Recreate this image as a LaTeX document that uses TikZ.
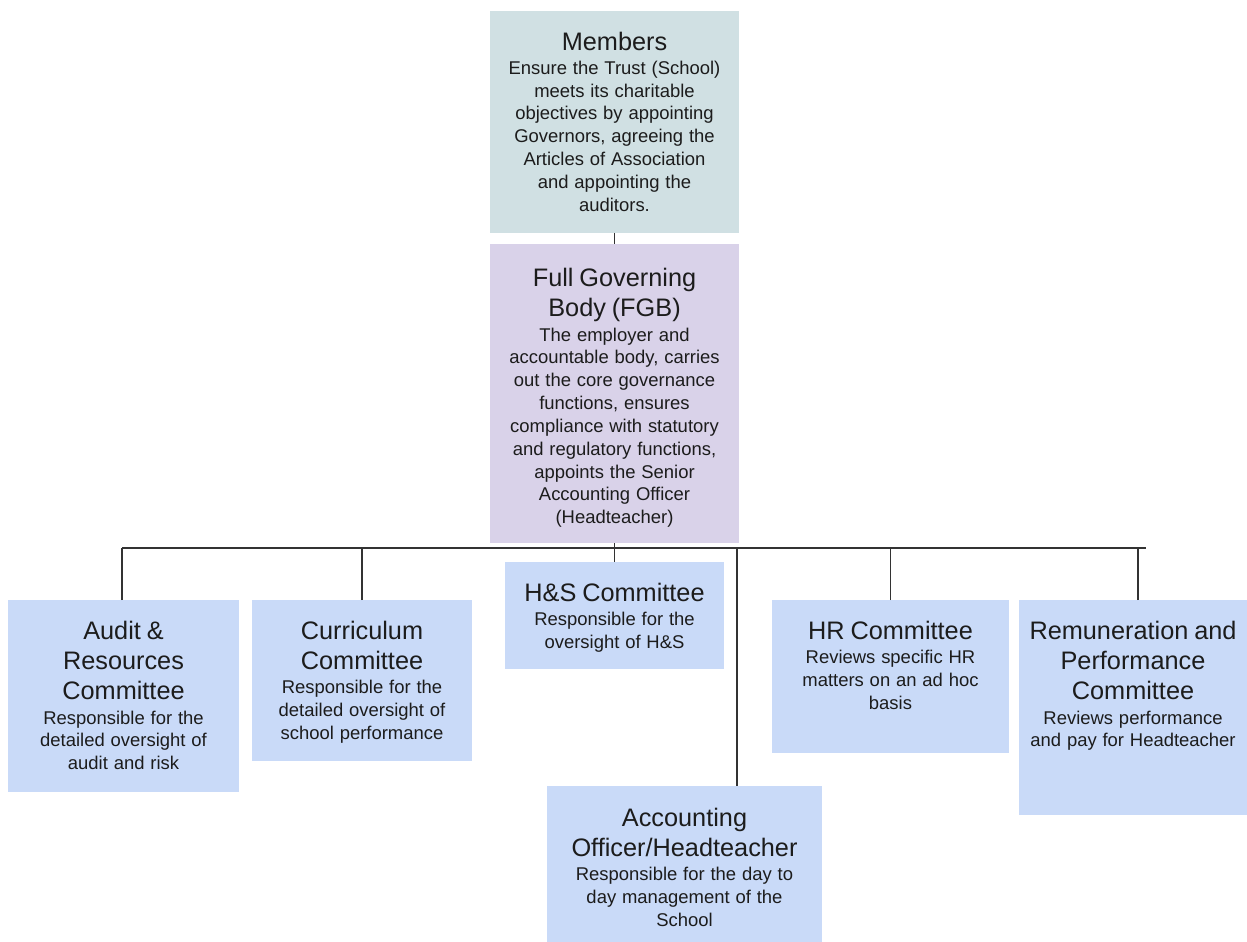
\documentclass[tikz,border=0pt]{standalone}
\usepackage{fontspec}
\setmainfont{Liberation Sans}
\usetikzlibrary{fit}
\definecolor{memfill}{HTML}{D0E0E3}
\definecolor{fgbfill}{HTML}{D9D2E9}
\definecolor{comfill}{HTML}{C9DAF8}
\definecolor{linecol}{HTML}{333333}
\definecolor{txtcol}{HTML}{1C1C1C}
\newcommand\ttlfont{\fontsize{14.4pt}{17.2pt}\selectfont}
\newcommand\bdyfont{\fontsize{10.5pt}{13pt}\selectfont}
\newcommand\boxtext[2]{{\ttlfont\strut #1\par}\vspace{0.8pt}{\bdyfont #2\par}}
\begin{document}
\begin{tikzpicture}[x=0.02cm, y=-0.02cm,
  box/.style={inner sep=0pt, outer sep=0pt, draw=none},
  lbl/.style={anchor=north, align=center, text width=7cm, inner sep=0pt, text=txtcol},
  conn/.style={draw=linecol, line width=0.8pt}]
\useasboundingbox (0,0) rectangle (1247,942);
% boxes
\node[box, fill=memfill, fit={(490,11) (739,233)}] (mem) {};
\node[box, fill=fgbfill, fit={(490,244) (739,543)}] (fgb) {};
\node[box, fill=comfill, fit={(8,600) (239,792)}] (aud) {};
\node[box, fill=comfill, fit={(252,600) (472,761)}] (cur) {};
\node[box, fill=comfill, fit={(505,562) (724,669)}] (hs) {};
\node[box, fill=comfill, fit={(772,600) (1009,753)}] (hr) {};
\node[box, fill=comfill, fit={(1019,600) (1247,815)}] (rem) {};
\node[box, fill=comfill, fit={(547,786) (822,942)}] (acc) {};
% texts
\node[lbl] (memt) at ([yshift=-10.0pt]mem.north) {\boxtext{Members}{Ensure the Trust (School)\\meets its charitable\\objectives by appointing\\Governors, agreeing the\\Articles of Association\\and appointing the\\auditors.}};
\node[lbl] (fgbt) at ([yshift=-12.0pt]fgb.north) {\boxtext{Full Governing\\Body (FGB)}{The employer and\\accountable body, carries\\out the core governance\\functions, ensures\\compliance with statutory\\and regulatory functions,\\appoints the Senior\\Accounting Officer\\(Headteacher)}};
\node[lbl] (audt) at ([yshift=-10.2pt]aud.north) {\boxtext{Audit \&\\Resources\\Committee}{Responsible for the\\detailed oversight of\\audit and risk}};
\node[lbl] (curt) at ([yshift=-10.2pt]cur.north) {\boxtext{Curriculum\\Committee}{Responsible for the\\detailed oversight of\\school performance}};
\node[lbl] (hst) at ([yshift=-10.2pt]hs.north) {\boxtext{H\&S Committee}{Responsible for the\\oversight of H\&S}};
\node[lbl] (hrt) at ([yshift=-10.2pt]hr.north) {\boxtext{HR Committee}{Reviews specific HR\\matters on an ad hoc\\basis}};
\node[lbl] (remt) at ([yshift=-10.2pt]rem.north) {\boxtext{Remuneration and\\Performance\\Committee}{Reviews performance\\and pay for Headteacher}};
\node[lbl] (acct) at ([yshift=-10.8pt]acc.north) {\boxtext{Accounting\\Officer/Headteacher}{Responsible for the day to\\day management of the\\School}};
% connectors
\coordinate (busL) at (122,548);
\coordinate (busR) at (1146,548);
\coordinate (accj) at (737,548);
\draw[conn] (busL) -- (busR);
\draw[conn] (mem.south) -- (fgb.north);
\draw[conn] (fgb.south) -- (hs.north);
\draw[conn] ([xshift=-0.8pt]aud.north) -- ([xshift=-0.8pt]aud.north |- busL);
\draw[conn] (cur.north) -- (cur.north |- busL);
\draw[conn] (hr.north) -- (hr.north |- busL);
\draw[conn] ([xshift=2.8pt]rem.north) -- ([xshift=2.8pt]rem.north |- busL);
\draw[conn] (accj) -- (accj |- acc.north);
\end{tikzpicture}
\end{document}
